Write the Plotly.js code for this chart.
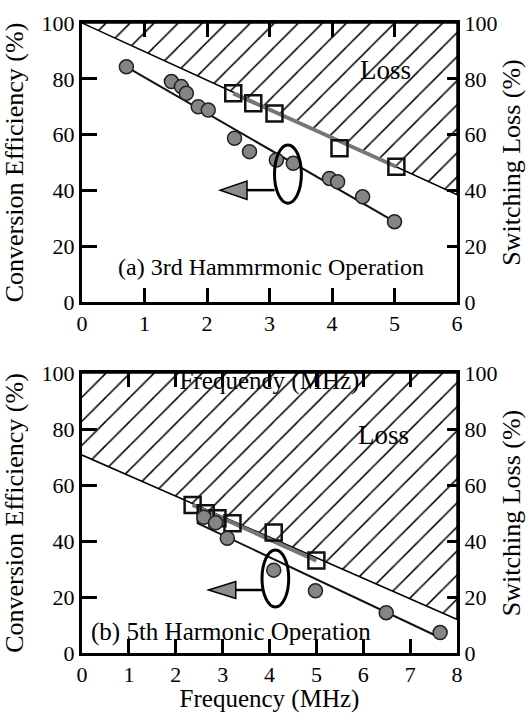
<!DOCTYPE html>
<html>
<head>
<meta charset="utf-8">
<script src="https://cdn.plot.ly/plotly-3.0.1.min.js"></script>
<style>html,body{margin:0;padding:0;background:#fff;}#chart{width:526px;height:713px;}</style>
</head>
<body>
<div id="chart"></div>
<script>
// ---------- Panel (a): 3rd harmonic ----------
const freqA_eff = [0.71, 1.43, 1.59, 1.67, 1.86, 2.02, 2.44, 2.68, 3.11, 3.38, 3.96, 4.09, 4.49, 5.00];
const effA      = [84.3, 79.0, 77.2, 74.8, 70.0, 68.8, 58.7, 53.9, 50.9, 49.7, 44.3, 43.1, 37.7, 28.8];
const freqA_sw  = [2.42, 2.74, 3.08, 4.12, 5.03];
const swA       = [74.8, 71.2, 67.6, 55.1, 48.5];
const fitA_effX = [0.71, 5.00];
const fitA_effY = [84.3, 28.8];
const fitA_swX  = [2.42, 5.03];
const fitA_swY  = [74.8, 48.5];
const lossA_X   = [0, 6, 6, 0];
const lossA_Y   = [100, 38.5, 100, 100];

// ---------- Panel (b): 5th harmonic ----------
const freqB_eff = [2.60, 2.85, 3.10, 4.09, 4.98, 6.49, 7.64];
const effB      = [48.5, 46.5, 41.0, 29.6, 22.2, 14.4, 7.3];
const freqB_sw  = [2.36, 2.64, 2.89, 3.21, 4.09, 5.00];
const swB       = [52.9, 49.9, 48.1, 46.3, 43.0, 33.0];
const fitB_effX = [2.45, 7.70];
const fitB_effY = [46.5, 5.0];
const fitB_swX  = [2.36, 5.00];
const fitB_swY  = [52.9, 33.0];
const lossB_X   = [0, 8, 8, 0];
const lossB_Y   = [70.7, 12.0, 100, 100];

const FONT = 'Liberation Serif, Times New Roman, serif';

function hatch(xs, ys, xa, ya) {
  return {x: xs, y: ys, xaxis: xa, yaxis: ya, mode: 'lines', fill: 'toself',
    line: {color: 'black', width: 1.5}, fillcolor: 'rgba(255,255,255,0)',
    fillpattern: {shape: '/', size: 17, solidity: 0.09, fgcolor: 'black', bgcolor: 'rgba(255,255,255,0)'},
    showlegend: false};
}
function fitLine(xs, ys, xa, ya, color, w) {
  return {x: xs, y: ys, xaxis: xa, yaxis: ya, mode: 'lines', line: {color: color, width: w}, showlegend: false};
}
function circles(xs, ys, xa, ya) {
  return {x: xs, y: ys, xaxis: xa, yaxis: ya, mode: 'markers',
    marker: {symbol: 'circle', size: 14, color: '#858585', line: {color: '#222', width: 1.5}}, showlegend: false};
}
function squares(xs, ys, xa, ya) {
  return {x: xs, y: ys, xaxis: xa, yaxis: ya, mode: 'markers',
    marker: {symbol: 'square-open', size: 16, color: '#111', line: {width: 2.5}}, showlegend: false};
}

const data = [
  hatch(lossA_X, lossA_Y, 'x', 'y'),
  fitLine(fitA_swX, fitA_swY, 'x', 'y', '#777', 4),
  squares(freqA_sw, swA, 'x', 'y'),
  fitLine(fitA_effX, fitA_effY, 'x', 'y', '#111', 2),
  circles(freqA_eff, effA, 'x', 'y'),
  hatch(lossB_X, lossB_Y, 'x2', 'y2'),
  fitLine(fitB_swX, fitB_swY, 'x2', 'y2', '#777', 4),
  squares(freqB_sw, swB, 'x2', 'y2'),
  fitLine(fitB_effX, fitB_effY, 'x2', 'y2', '#111', 2),
  circles(freqB_eff, effB, 'x2', 'y2'),
  {x: [0], y: [0], xaxis: 'x', yaxis: 'y3', mode: 'markers', marker: {opacity: 0}, showlegend: false},
  {x: [0], y: [0], xaxis: 'x2', yaxis: 'y4', mode: 'markers', marker: {opacity: 0}, showlegend: false}
];

function xAxis(rng, anchor) {
  return {range: rng, dtick: 1, anchor: anchor, mirror: 'ticks',
    ticks: 'inside', ticklen: 14, tickwidth: 3, tickcolor: '#000',
    showline: true, linewidth: 3, linecolor: '#000', showgrid: false, zeroline: false,
    tickfont: {family: FONT, size: 22, color: '#000'},
    title: {text: 'Frequency (MHz)', font: {family: FONT, size: 25, color: '#000'}}};
}
function yLeft(domain, anchor) {
  return {range: [0, 100], dtick: 20, domain: domain, anchor: anchor,
    ticks: 'inside', ticklen: 15, tickwidth: 3, tickcolor: '#000',
    showline: true, linewidth: 3, linecolor: '#000', showgrid: false, zeroline: false,
    tickfont: {family: FONT, size: 22, color: '#000'},
    title: {text: 'Conversion Efficiency (%)', font: {family: FONT, size: 26, color: '#000'}}};
}
function yRight(overlay, anchor) {
  return {range: [0, 100], dtick: 20, overlaying: overlay, anchor: anchor, side: 'right',
    ticks: 'inside', ticklen: 10, tickwidth: 3, tickcolor: '#000',
    showline: true, linewidth: 3, linecolor: '#000', showgrid: false, zeroline: false,
    tickfont: {family: FONT, size: 22, color: '#000'},
    title: {text: 'Switching Loss (%)', font: {family: FONT, size: 26, color: '#000'}}};
}

function ann(x, y, xr, yr, text, size) {
  return {x: x, y: y, xref: xr, yref: yr, text: text, showarrow: false,
    font: {family: FONT, size: size, color: '#000'}};
}

// marker ellipses + pointer arrows (decoration)
const deco = [
  {xr: 'x', yr: 'y', ex: [3.08, 3.51], ey: [35.4, 56.3], ly: 40.1, tip: 2.21, bx: 2.64, th: 3.3},
  {xr: 'x2', yr: 'y2', ex: [3.84, 4.41], ey: [16.4, 36.8], ly: 22.5, tip: 2.70, bx: 3.28, th: 3.0}
];
const shapes = [];
deco.forEach(d => {
  shapes.push({type: 'circle', xref: d.xr, yref: d.yr, x0: d.ex[0], x1: d.ex[1], y0: d.ey[0], y1: d.ey[1],
    line: {color: '#000', width: 3}});
  shapes.push({type: 'line', xref: d.xr, yref: d.yr, x0: d.bx, x1: d.ex[0], y0: d.ly, y1: d.ly,
    line: {color: '#000', width: 2.5}});
  shapes.push({type: 'path', xref: d.xr, yref: d.yr,
    path: 'M ' + d.tip + ',' + d.ly + ' L ' + d.bx + ',' + (d.ly + d.th) + ' L ' + d.bx + ',' + (d.ly - d.th) + ' Z',
    fillcolor: '#8c8c8c', line: {color: '#000', width: 1.5}});
});

const layout = {
  width: 526, height: 713,
  margin: {l: 82, r: 69, t: 23, b: 60},
  showlegend: false,
  xaxis: xAxis([0, 6], 'y'),
  yaxis: yLeft([0.5571, 1], 'x'),
  xaxis2: xAxis([0, 8], 'y2'),
  yaxis2: yLeft([0, 0.4444], 'x2'),
  yaxis3: yRight('y', 'x'),
  yaxis4: yRight('y2', 'x2'),
  shapes: shapes,
  annotations: [
    ann(4.85, 83, 'x', 'y', 'Loss', 27),
    ann(3.02, 12.5, 'x', 'y', '(a) 3rd Hammrmonic Operation', 24),
    ann(6.43, 78, 'x2', 'y2', 'Loss', 27),
    ann(3.17, 7.5, 'x2', 'y2', '(b) 5th Harmonic Operation', 25)
  ]
};

Plotly.newPlot('chart', data, layout, {staticPlot: true});
</script>
</body>
</html>
